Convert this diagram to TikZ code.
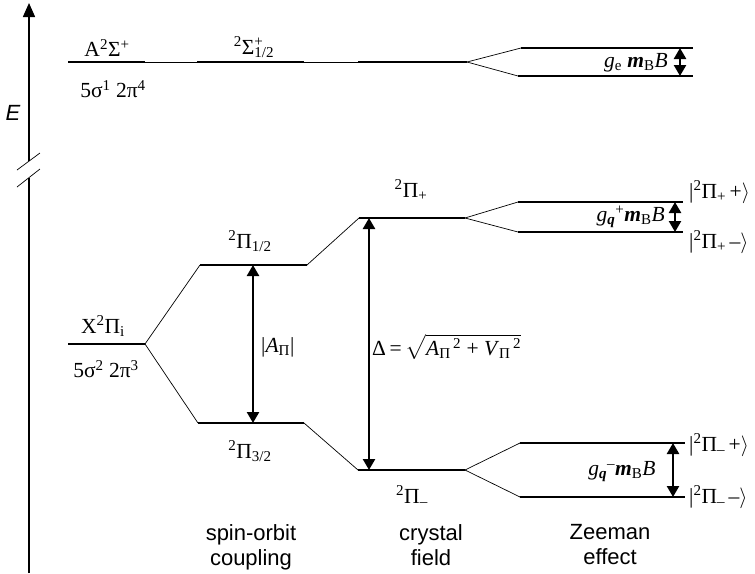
\documentclass[tikz,border=0pt]{standalone}
\usepackage{amsmath}
\usepackage{fontspec}
\setmainfont{Liberation Serif}
\setsansfont{Liberation Sans}
\usetikzlibrary{arrows.meta,positioning,calc}

\newcommand{\supsub}[2]{\makebox[0pt][l]{\textsuperscript{#1}}\textsubscript{#2}}
\newcommand{\gqlab}[1]{\textit{g}\textsubscript{\textbf{\textit{q}}}\textsuperscript{#1}\textbf{\textit{m}}\textsubscript{B}\textit{B}}
\newcommand{\ketlab}[2]{|\textsuperscript{2}Π\textsubscript{#1}\,#2$\rangle$}

\begin{document}
\begin{tikzpicture}[x=1pt, y=-1pt,
    level/.style={line width=1.6pt},
    link/.style={line width=0.7pt},
    gap/.style={{Triangle[length=11pt,width=12pt]}-{Triangle[length=11pt,width=12pt]}, line width=2.4pt},
    lab/.style={font=\fontsize{21.5}{24}\selectfont, inner sep=0pt},
    caption/.style={font=\sffamily\fontsize{22}{25}\selectfont, align=center, inner sep=0pt}
]
    \useasboundingbox (0,0) rectangle (755,573);

    % energy axis with break
    \coordinate (ax0) at (29,573);
    \coordinate (ax1) at (29,178);
    \coordinate (ax2) at (29,161);
    \coordinate (axtop) at (29,3);
    \draw[line width=1.6pt] (ax0) -- (ax1);
    \draw[line width=1.6pt, -{Triangle[length=14pt,width=12pt]}] (ax2) -- (axtop);
    \coordinate (br1a) at (17,187); \coordinate (br1b) at (40,169);
    \coordinate (br2a) at (17,170); \coordinate (br2b) at (40,153);
    \draw[link] (br1a) -- (br1b);
    \draw[link] (br2a) -- (br2b);
    \node[font=\sffamily\itshape\fontsize{22}{24}\selectfont, inner sep=0pt] (E) at (13,113) {E};

    % A state
    \coordinate (A0) at (68,62);  \coordinate (A1) at (145,62);
    \coordinate (A2) at (197,62); \coordinate (A3) at (304,62);
    \coordinate (A4) at (358,62); \coordinate (A5) at (467,62);
    \coordinate (Au0) at (521,48); \coordinate (Au1) at (693,48);
    \coordinate (Ad0) at (518,76); \coordinate (Ad1) at (693,76);
    \draw[level] (A0) -- (A1);
    \draw[link] (A1) -- (A2);
    \draw[level] (A2) -- (A3);
    \draw[link] (A3) -- (A4);
    \draw[level] (A4) -- (A5);
    \draw[link] (A5) -- (Au0);
    \draw[link] (A5) -- (Ad0);
    \draw[level] (Au0) -- (Au1);
    \draw[level] (Ad0) -- (Ad1);
    \coordinate (gaT) at (680,48); \coordinate (gaB) at (680,76);
    \draw[gap] (gaT) -- (gaB);

    \node[lab] (Alab) at (107,48) {A\textsuperscript{2}Σ\textsuperscript{+}};
    \node[lab] (Acfg) at (113,89) {5σ\textsuperscript{1} 2π\textsuperscript{4}};
    \node[lab] (Sig) at (254,47) {\textsuperscript{2}Σ\supsub{+}{1/2}};
    \node[lab, anchor=east] (geB) at (668,63) {\textit{g}\textsubscript{e} \textbf{\textit{m}}\textsubscript{B}\textit{B}};

    % X state
    \coordinate (X0) at (68,344);  \coordinate (X1) at (145,344);
    \coordinate (P1a) at (200,265); \coordinate (P1b) at (307,265);
    \coordinate (P3a) at (198,423); \coordinate (P3b) at (304,423);
    \coordinate (Ppa) at (359,218); \coordinate (Ppb) at (465,218);
    \coordinate (Pma) at (358,470); \coordinate (Pmb) at (465,470);
    \coordinate (Ppu0) at (518,202); \coordinate (Ppu1) at (683,202);
    \coordinate (Ppd0) at (518,232); \coordinate (Ppd1) at (683,232);
    \coordinate (Pmu0) at (520,443); \coordinate (Pmu1) at (685,443);
    \coordinate (Pmd0) at (520,497); \coordinate (Pmd1) at (685,497);

    \foreach \a/\b in {X0/X1, P1a/P1b, P3a/P3b, Ppa/Ppb, Pma/Pmb,
                       Ppu0/Ppu1, Ppd0/Ppd1, Pmu0/Pmu1, Pmd0/Pmd1}
        \draw[level] (\a) -- (\b);
    \foreach \a/\b in {X1/P1a, X1/P3a, P1b/Ppa, P3b/Pma,
                       Ppb/Ppu0, Ppb/Ppd0, Pmb/Pmu0, Pmb/Pmd0}
        \draw[link] (\a) -- (\b);

    % splittings
    \coordinate (soT) at (253,265); \coordinate (soB) at (253,423);
    \coordinate (cfT) at (369,218); \coordinate (cfB) at (369,470);
    \coordinate (zpT) at (675,202); \coordinate (zpB) at (675,232);
    \coordinate (zmT) at (673,443); \coordinate (zmB) at (673,497);
    \draw[gap] (soT) -- (soB);
    \draw[gap] (cfT) -- (cfB);
    \draw[gap] (zpT) -- (zpB);
    \draw[gap] (zmT) -- (zmB);

    \node[lab] (Xlab) at (103,326) {X\textsuperscript{2}Π\textsubscript{i}};
    \node[lab] (Xcfg) at (106,369) {5σ\textsuperscript{2} 2π\textsuperscript{3}};
    \node[lab] (P1lab) at (250,241) {\textsuperscript{2}Π\textsubscript{1/2}};
    \node[lab] (P3lab) at (250,451) {\textsuperscript{2}Π\textsubscript{3/2}};
    \node[lab] (Pplab) at (411,190) {\textsuperscript{2}Π\textsubscript{+}};
    \node[lab] (Pmlab) at (412,496) {\textsuperscript{2}Π\textsubscript{–}};
    \node[lab, anchor=west] (Alab2) at (261,347) {|\textit{A}\textsubscript{Π}|};
    \node[lab, anchor=west] (Dlab) at (372,347)
        {Δ\,=\,$\sqrt{\text{\textit{A}\textsubscript{Π}\textsuperscript{\,2} + \textit{V}\textsubscript{Π}\textsuperscript{\,2}}}$};
    \node[lab, anchor=east] (gpB) at (665,217) {\gqlab{+}};
    \node[lab] (gmB) at (622,472) {\gqlab{–}};

    \node[lab, anchor=west] (kpp) at (689,192) {\ketlab{+}{+}};
    \node[lab, anchor=west] (kpm) at (689,242) {\ketlab{+}{–}};
    \node[lab, anchor=west] (kmp) at (689,445) {\ketlab{–}{+}};
    \node[lab, anchor=west] (kmm) at (689,497) {\ketlab{–}{–}};

    % captions
    \node[caption] (so) at (251,547) {spin-orbit\\coupling};
    \node[caption] (cf) at (431,545) {crystal\\field};
    \node[caption] (ze) at (610,545) {Zeeman\\effect};
\end{tikzpicture}
\end{document}
